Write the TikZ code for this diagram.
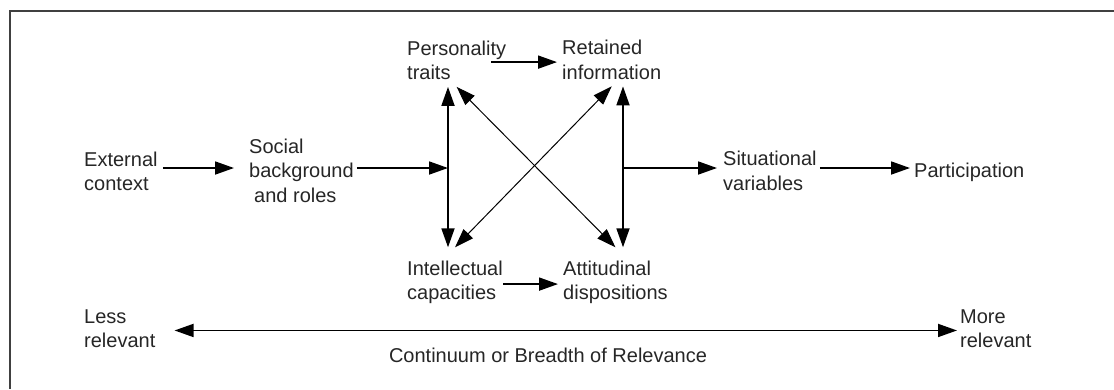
\documentclass[tikz,border=0pt]{standalone}
\usepackage{fontspec}
\setmainfont{Liberation Sans}
\usetikzlibrary{arrows.meta,calc}
\tikzset{font=\fontsize{20}{24.5}\selectfont}
\tikzset{every node/.append style={text=black!85}}

\begin{document}
\begin{tikzpicture}[x=1pt,y=-1pt,
  lbl/.style={anchor=base west,align=left,inner sep=0pt},
  arr/.style={line width=1.8pt,-{Triangle[length=19pt,width=13pt]}},
  dbl/.style={line width=1.8pt,{Triangle[length=19pt,width=13pt]}-{Triangle[length=19pt,width=13pt]}},
  xdbl/.style={line width=1pt,{Triangle[length=19pt,width=13pt]}-{Triangle[length=19pt,width=13pt]}}]
  \useasboundingbox (0,0) rectangle (1114,389);
  % frame, cut off at right and bottom
  \draw[line width=1.8pt,black!75] (1114,11) -- (10,11) -- (10,389);

  % base of each label is its last line
  \node[lbl] (ext) at (84,190.5) {External\\context};
  \node[lbl] (soc) at (249,202) {Social\\background\\\hspace*{5pt}and roles};
  \node[lbl] (per) at (407,79.5) {Personality\\traits};
  \node[lbl] (ret) at (562,79) {Retained\\information};
  \node[lbl] (int) at (407,299.5) {Intellectual\\capacities};
  \node[lbl] (att) at (563,299.5) {Attitudinal\\dispositions};
  \node[lbl] (sit) at (723,190) {Situational\\variables};
  \node[lbl] (par) at (914,177) {Participation};
  \node[lbl] (less) at (84,347.5) {Less\\relevant};
  \node[lbl] (more) at (960,347.5) {More\\relevant};
  \node[anchor=base,inner sep=0pt] (cont) at (548,362) {Continuum or Breadth of Relevance};

  \coordinate (jl) at (448,168);
  \coordinate (jr) at (623,168);

  \draw[arr] ($(ext.east |- jl)+(5,0)$) -- ($(soc.west |- jl)+(-15,0)$);
  \draw[arr] ($(soc.east |- jl)+(3,0)$) -- (jl);
  \draw[dbl] ($(per.south -| jl)+(0,7)$) -- ($(int.north -| jl)+(0,-13)$);
  \draw[dbl] ($(ret.south -| jr)+(0,7)$) -- ($(att.north -| jr)+(0,-13)$);
  \draw[arr] ($(per.east)+(-15,2)$) -- ($(ret.west |- per.east)+(-5,2)$);
  \draw[arr] ($(int.east)+(0,2)$) -- ($(att.west |- int.east)+(-5,2)$);
  \draw[xdbl] ($(per.south)+(0,7)$) -- ($(att.north)+(0,-13)$);
  \draw[xdbl] ($(ret.south)+(0,7)$) -- ($(int.north)+(0,-13)$);
  \draw[arr] (jr) -- ($(sit.west |- jr)+(-6,0)$);
  \draw[arr] ($(sit.east |- jr)+(3,0)$) -- ($(par.west |- jr)+(-4,0)$);
  \draw[dbl] ($(less.east)+(19,2)$) -- ($(more.west)+(-3,2)$);
\end{tikzpicture}
\end{document}
